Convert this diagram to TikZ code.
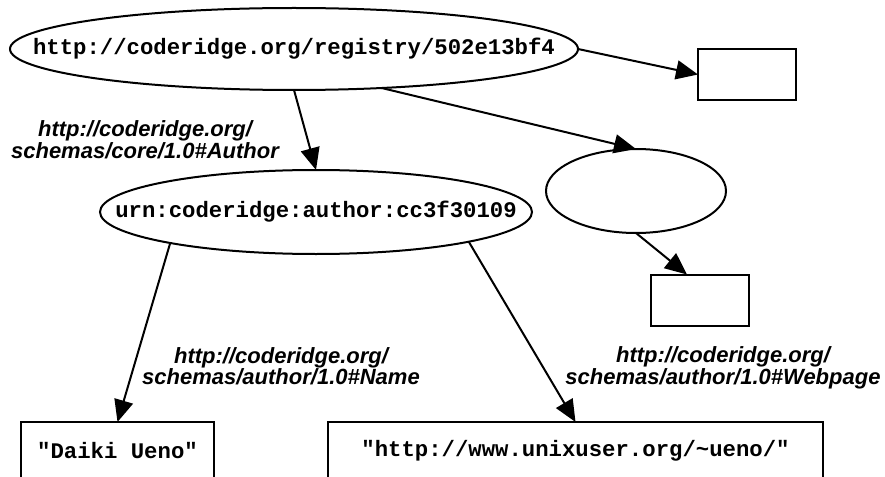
\documentclass[tikz,border=0pt]{standalone}
\usepackage{fontspec}
\setmainfont{Liberation Sans}
\setsansfont{Liberation Sans}
\setmonofont{Liberation Mono}
\usetikzlibrary{shapes.geometric,arrows.meta}
\tikzset{
  every node/.style={inner sep=0pt, outer sep=0pt},
  monotext/.style={font=\fontsize{22.3}{26}\selectfont\ttfamily\bfseries},
  resnode/.style={ellipse, draw=black, line width=2pt, monotext},
  litnode/.style={rectangle, draw=black, line width=2pt, monotext},
  emptybox/.style={rectangle, draw=black, line width=2pt, minimum width=98pt, minimum height=51pt},
  lbl/.style={font=\fontsize{22}{19.5}\selectfont\sffamily\bfseries\itshape, align=center},
  edgearrow/.style={line width=2pt, draw=black, -{Triangle[length=22pt,width=19pt]}},
}
\begin{document}
\begin{tikzpicture}[x=1pt,y=-1pt]
\useasboundingbox (0,0) rectangle (885,476);
% nodes
\node[resnode, minimum width=568pt, minimum height=82pt] (reg) at (294,49)
  {\makebox[0pt]{http://coderidge.org/registry/502e13bf4}};
\node[emptybox] (b1) at (747,74.5) {};
\node[resnode, minimum width=180pt, minimum height=84pt] (blank) at (636,191) {};
\node[emptybox] (b2) at (700,300) {};
\node[resnode, minimum width=432pt, minimum height=84pt] (auth) at (316,212)
  {\makebox[0pt]{urn:coderidge:author:cc3f30109}};
\node[litnode, minimum width=193pt, minimum height=58pt] (name) at (117.5,451)
  {\makebox[0pt]{"Daiki Ueno"}};
\node[litnode, minimum width=495pt, minimum height=58pt] (web) at (575.5,451)
  {\makebox[0pt]{"http://www.unixuser.org/\textasciitilde ueno/"}};
% labels
\node[lbl] (l1) at (145,140) {http://coderidge.org/\\schemas/core/1.0\#Author};
\node[lbl] (l2) at (281,366) {http://coderidge.org/\\schemas/author/1.0\#Name};
\node[lbl] (l3) at (723,368) {http://coderidge.org/\\schemas/author/1.0\#Webpage};
% edges
\draw[edgearrow] (reg.-24) -- (blank.north);
\draw[edgearrow] (reg.east) -- (b1.west);
\draw[edgearrow] (reg.south) -- (auth.north);
\draw[edgearrow] (auth.-168) -- (name.north);
\draw[edgearrow] (auth.-11) -- (web.north);
\draw[edgearrow] (blank.south) -- (b2.117);
\end{tikzpicture}
\end{document}
